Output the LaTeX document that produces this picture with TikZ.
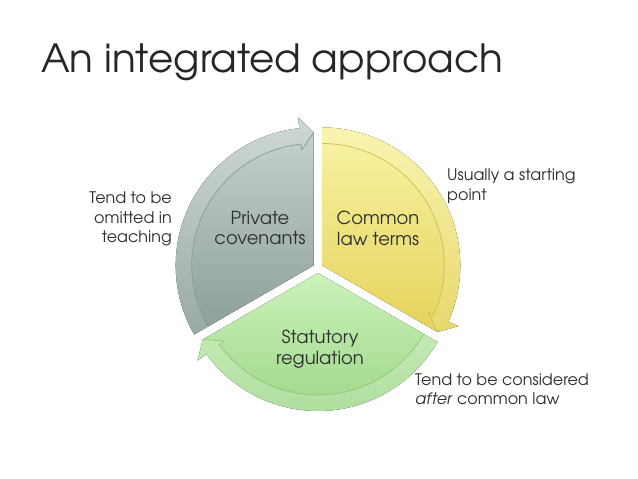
\documentclass[tikz,border=0pt]{standalone}
\usepackage{fontspec}
\setmainfont{texgyreadventor}[Extension=.otf, UprightFont=*-regular, ItalicFont=*-italic, BoldFont=*-bold]
\usetikzlibrary{calc}

\definecolor{titletext}{HTML}{262626}
\definecolor{labeltext}{HTML}{2E2E2E}
\definecolor{grayTop}{HTML}{C8D4D0}
\definecolor{grayBot}{HTML}{8C9E98}
\definecolor{grayLine}{HTML}{8A9A95}
\definecolor{yelTop}{HTML}{F9F3A6}
\definecolor{yelBot}{HTML}{E4D35A}
\definecolor{yelLine}{HTML}{CFBF4E}
\definecolor{grnTop}{HTML}{CCF2BA}
\definecolor{grnBot}{HTML}{9ED78A}
\definecolor{grnLine}{HTML}{8CC878}

% outline of one segment: start angle, clockwise end angle
\newcommand{\segoutline}[2]{(0,0) -- (#1:138) arc[start angle=#1, end angle=#2+6, radius=138] -- (#2+6:149) -- (#2:133) -- cycle}
\newcommand{\segband}[2]{(#1:138) arc[start angle=#1, end angle=#2+6, radius=138] -- (#2+6:149) -- (#2:133) -- (#2+6:116) -- (#2+6:122) arc[start angle=#2+6, end angle=#1, radius=122] -- cycle}
\newcommand{\segline}[2]{(#1:122) arc[start angle=#1, end angle=#2+6, radius=122] -- (#2+6:116) -- (#2:133)}

\tikzset{
  seglabel/.style={align=center, text=labeltext, inner sep=0pt, font=\fontsize{18}{21}\selectfont},
  sidelabel/.style={text=labeltext, inner sep=0pt, font=\fontsize{16}{19.5}\selectfont},
  innerline/.style={line width=0.7pt, line join=round},
}

\begin{document}
\begin{tikzpicture}[x=1bp,y=1bp]
    \useasboundingbox (0,0) rectangle (638,479);
    \fill[white] (0,0) rectangle (638,479);
    \node[anchor=base west, inner sep=0pt, text=titletext, font=\fontsize{39}{43}\selectfont] (title) at (41,406) {An integrated approach};

    % common law terms
    \begin{scope}[shift={(322.3,213.5)}]
        \fill[top color=yelTop, bottom color=yelBot] \segoutline{90}{-30};
        \fill[white, opacity=.12] \segband{90}{-30};
        \draw[yelLine, innerline] \segline{90}{-30};
    \end{scope}
    % private covenants
    \begin{scope}[shift={(313.7,213.5)}]
        \fill[top color=grayTop, bottom color=grayBot] \segoutline{210}{90};
        \fill[white, opacity=.12] \segband{210}{90};
        \draw[grayLine, innerline] \segline{210}{90};
    \end{scope}
    % statutory regulation
    \begin{scope}[shift={(318,206)}]
        \fill[top color=grnTop, bottom color=grnBot] \segoutline{-30}{-150};
        \fill[white, opacity=.18] \segband{-30}{-150};
        \draw[grnLine, innerline] \segline{-30}{-150};
    \end{scope}

    \node[seglabel] (common) at (378,251) {Common\\law terms};
    \node[seglabel] (private) at (260,251) {Private\\covenants};
    \node[seglabel] (statutory) at (320,130) {Statutory\\regulation};

    \node[sidelabel, anchor=east, align=right] (omitted) at (172,260) {Tend to be\\omitted in\\teaching};
    \node[sidelabel, anchor=west, align=left] (starting) at (447,293) {Usually a starting\\point};
    \node[sidelabel, anchor=west, align=left] (after) at (415,90) {Tend to be considered\\\textit{after} common law};
\end{tikzpicture}
\end{document}
